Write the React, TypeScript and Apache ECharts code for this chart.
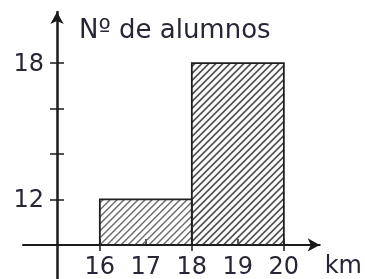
import React, { useEffect, useRef } from "react";
import * as echarts from "echarts";

// Data
const binStarts = [16, 18];
const binEnds = [18, 20];
const students = [12, 18];
const baseValue = 10; // value where the x-axis crosses the (broken) y-axis
const xLabels = [16, 17, 18, 19, 20];
const yLabels = [12, 18];
const yTicks = [12, 14, 16, 18];
const yAxisTitle = "Nº de alumnos";
const xAxisTitle = "km";

// Layout / style
const X_MIN = 14.33;
const X_MAX = 20.78;
const Y_MIN = 8.5;
const Y_MAX = 20.25;
const Y_AXIS_OFFSET_PX = 34;
const HATCH_STYLES = [
  { stroke: "#6a6a6a", lineWidth: 1.4 },
  { stroke: "#4f4f4f", lineWidth: 1.6 },
];

const FONT = "DejaVu Sans";
const LABEL_COLOR = "#262636";
const AXIS_COLOR = "#1a1a1a";

export default function App() {
  const ref = useRef<HTMLDivElement>(null);
  useEffect(() => {
    if (!ref.current) return;
    const chart = echarts.init(ref.current, undefined, { renderer: "svg" });
    const gridLeft = 23, gridRight = 45, gridTop = 12, gridBottom = 0;
    const H = 279;
    const gh = H - gridTop - gridBottom;
    const xOffset = -((baseValue - Y_MIN) / (Y_MAX - Y_MIN)) * gh;

    const data = binStarts.map((s, i) => [s, binEnds[i], students[i]]);

    const renderItem = (params: any, api: any) => {
      const x0 = api.value(0), x1 = api.value(1), h = api.value(2);
      const p0 = api.coord([x0, baseValue]);
      const p1 = api.coord([x1, h]);
      const rx = p0[0], ry = p1[1], rw = p1[0] - p0[0], rh = p0[1] - p1[1];
      const children: any[] = [];
      const step = 7;
      const hs = HATCH_STYLES[params.dataIndex % HATCH_STYLES.length];
      for (let c = rx + ry + step / 2; c < rx + rw + ry + rh; c += step) {
        const xa = Math.max(rx, c - (ry + rh));
        const xb = Math.min(rx + rw, c - ry);
        if (xb <= xa) continue;
        children.push({
          type: "line",
          shape: { x1: xa, y1: c - xa, x2: xb, y2: c - xb },
          style: { stroke: hs.stroke, lineWidth: hs.lineWidth },
        });
      }
      children.push({
        type: "rect",
        shape: { x: rx, y: ry, width: rw, height: rh },
        style: { fill: "none", stroke: "#1e1e1e", lineWidth: 1.8 },
      });
      return { type: "group", children };
    };

    chart.setOption({
      animation: false,
      title: {
        text: yAxisTitle,
        left: 74,
        top: 11,
        textStyle: { fontFamily: FONT, fontSize: 26, fontWeight: "normal", color: LABEL_COLOR },
      },
      grid: { left: gridLeft, right: gridRight, top: gridTop, bottom: gridBottom, containLabel: false },
      xAxis: [
        {
          type: "value",
          min: X_MIN,
          max: X_MAX,
          offset: xOffset,
          splitLine: { show: false },
          name: xAxisTitle,
          nameLocation: "end",
          nameGap: 5,
          nameTextStyle: { fontFamily: FONT, fontSize: 24, lineHeight: 22, color: LABEL_COLOR, verticalAlign: "top", padding: [9, 0, 0, 0] },
          axisLine: {
            show: true,
            lineStyle: { color: AXIS_COLOR, width: 2 },
            symbol: ["none", "arrow"],
            symbolSize: [10, 12],
          },
          axisTick: { show: true, inside: true, length: 6, customValues: xLabels, lineStyle: { color: AXIS_COLOR, width: 1.5 } },
          axisLabel: {
            show: true,
            customValues: xLabels,
            margin: 10,
            fontFamily: FONT,
            fontSize: 24,
            lineHeight: 22,
            color: LABEL_COLOR,
          },
        },
        {
          type: "value",
          min: X_MIN,
          max: X_MAX,
          offset: xOffset,
          position: "bottom",
          splitLine: { show: false },
          axisLine: { show: false },
          axisTick: { show: true, inside: false, length: 6, customValues: [16, 18, 20], lineStyle: { color: AXIS_COLOR, width: 1.5 } },
          axisLabel: { show: false },
        },
      ],
      yAxis: [
        {
          type: "value",
          min: Y_MIN,
          max: Y_MAX,
          offset: -Y_AXIS_OFFSET_PX,
          splitLine: { show: false },
          axisLine: {
            show: true,
            lineStyle: { color: AXIS_COLOR, width: 2.5 },
            symbol: ["none", "arrow"],
            symbolSize: [10, 12],
          },
          axisTick: { show: true, inside: false, length: 7, customValues: yTicks, lineStyle: { color: AXIS_COLOR, width: 1.5 } },
          axisLabel: {
            show: true,
            customValues: yLabels,
            margin: 13,
            fontFamily: FONT,
            fontSize: 24,
            color: LABEL_COLOR,
          },
        },
        {
          type: "value",
          min: Y_MIN,
          max: Y_MAX,
          offset: -Y_AXIS_OFFSET_PX,
          position: "left",
          splitLine: { show: false },
          axisLine: { show: false },
          axisTick: { show: true, inside: true, length: 7, customValues: yTicks, lineStyle: { color: AXIS_COLOR, width: 1.5 } },
          axisLabel: { show: false },
        },
      ],
      series: [
        {
          type: "custom",
          xAxisIndex: 0,
          yAxisIndex: 0,
          renderItem,
          encode: { x: [0, 1], y: 2 },
          data,
          clip: false,
        },
      ],
    });
    return () => chart.dispose();
  }, []);
  return <div ref={ref} style={{ position: "fixed", left: 0, top: 0, width: 365, height: 279 }} />;
}
